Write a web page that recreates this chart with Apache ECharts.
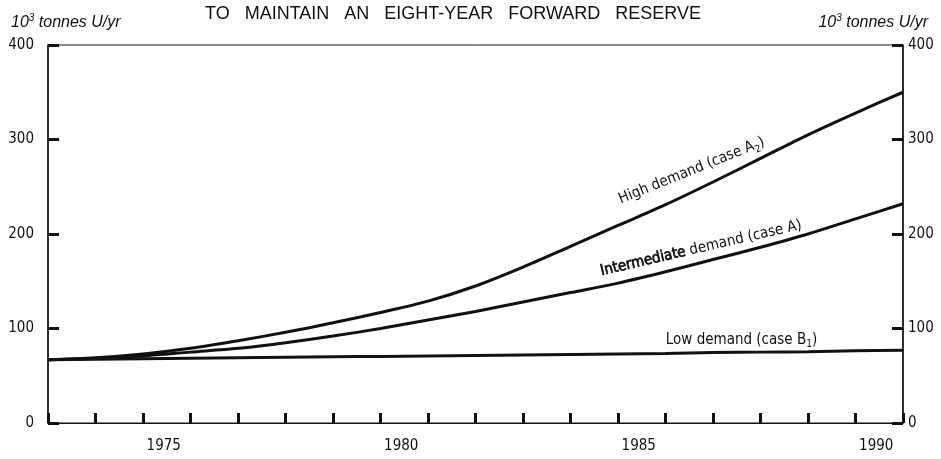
<!DOCTYPE html>
<html>
<head>
<meta charset="utf-8">
<script src="https://cdn.jsdelivr.net/npm/echarts@6/dist/echarts.min.js"></script>
<style>
  html, body { margin: 0; padding: 0; background: #fff; }
  #chart { width: 941px; height: 459px; }
</style>
</head>
<body>
<div id="chart"></div>
<script>
// band labels under the axis (one band per year)
const yearBands = ['1973', '1974', '1975', '1976', '1977', '1978', '1979', '1980', '1981',
  '1982', '1983', '1984', '1985', '1986', '1987', '1988', '1989', '1990'];
const shownYears = ['1975', '1980', '1985', '1990'];

// x positions of the curve points (start of each year)
const xYears = [1973, 1974, 1975, 1976, 1977, 1978, 1979, 1980, 1981, 1982,
  1983, 1984, 1985, 1986, 1987, 1988, 1989, 1990, 1991];

// 10^3 tonnes U/yr
const highDemand = [67, 69, 73, 79, 87, 96, 106, 117, 129, 145, 165, 187, 209, 231, 255, 280, 305, 328, 350];
const intermediateDemand = [67, 68.5, 71, 75, 79, 85, 92, 100, 109, 118, 128, 138, 148, 160, 173, 186, 200, 216, 232];
const lowDemand = [67, 67.5, 68, 68.5, 69, 69.5, 70, 70.5, 71, 71.5, 72, 72.5, 73, 73.5, 74.5, 75, 75.5, 76.5, 77];

const yTicks = [0, 100, 200, 300, 400];

const FONT = '"Liberation Sans Narrow", "DejaVu Sans Condensed", "Liberation Sans", sans-serif';
const INK = '#111';

const pairs = (vals) => vals.map((v, i) => [xYears[i], v]);

const chart = echarts.init(document.getElementById('chart'));

const lineSeries = (name, vals, label) => ({
  name,
  type: 'line',
  xAxisIndex: 0,
  data: pairs(vals),
  smooth: 0.3,
  symbol: 'none',
  lineStyle: { color: INK, width: 3 },
  markPoint: {
    symbolSize: 0,
    silent: true,
    data: [label]
  }
});

const unitsText = {
  text: '{i|10}{sup|3}{i| tonnes U/yr}',
  textStyle: {
    rich: {
      i: { fontFamily: 'Liberation Sans', fontStyle: 'italic', fontWeight: 'normal', fontSize: 16, color: INK, lineHeight: 20 },
      sup: { fontFamily: 'Liberation Sans', fontStyle: 'italic', fontWeight: 'normal', fontSize: 10, color: INK, verticalAlign: 'top', lineHeight: 20 }
    }
  }
};

chart.setOption({
  animation: false,
  backgroundColor: '#fff',
  title: [
    {
      text: 'TO   MAINTAIN   AN   EIGHT-YEAR   FORWARD   RESERVE',
      left: 448,
      textAlign: 'center',
      top: 0,
      textStyle: { fontFamily: 'Liberation Sans', fontWeight: 'normal', fontSize: 18, color: INK }
    },
    Object.assign({ left: 6, top: 8 }, unitsText),
    Object.assign({ right: 8, top: 8 }, unitsText)
  ],
  grid: {
    left: 48, right: 38, top: 45, bottom: 36,
    show: true, borderColor: INK, borderWidth: 1
  },
  xAxis: [
    {
      type: 'value',
      min: 1973, max: 1991, interval: 1,
      axisLine: { show: true, lineStyle: { color: INK, width: 1 } },
      axisTick: { show: true, inside: true, length: 10, lineStyle: { color: INK, width: 3 } },
      axisLabel: { show: false },
      splitLine: { show: false }
    },
    {
      type: 'category',
      data: yearBands,
      boundaryGap: true,
      position: 'bottom',
      axisLine: { show: false },
      axisTick: { show: false },
      axisLabel: {
        margin: 16,
        padding: [0, 6, 0, 0],
        fontFamily: FONT,
        fontSize: 15,
        color: INK,
        interval: (i, v) => shownYears.includes(v)
      },
      splitLine: { show: false }
    }
  ],
  yAxis: [
    {
      type: 'value', position: 'left',
      min: 0, max: 400, interval: 100,
      axisLine: { show: true, lineStyle: { color: INK, width: 1.5 } },
      axisTick: { show: true, inside: true, length: 11, lineStyle: { color: INK, width: 3 } },
      axisLabel: { margin: 14, fontFamily: FONT, fontSize: 15, color: INK,
        formatter: (v) => yTicks.includes(v) ? String(v) : '' },
      splitLine: { show: false }
    },
    {
      type: 'value', position: 'right',
      min: 0, max: 400, interval: 100,
      axisLine: { show: true, lineStyle: { color: INK, width: 1.5 } },
      axisTick: { show: true, inside: true, length: 11, lineStyle: { color: INK, width: 3 } },
      axisLabel: { margin: 5, fontFamily: FONT, fontSize: 15, color: INK,
        formatter: (v) => yTicks.includes(v) ? String(v) : '' },
      splitLine: { show: false }
    }
  ],
  series: [
    lineSeries('High demand (case A2)', highDemand, {
      coord: [1986.55, 267],
      label: {
        show: true, position: 'inside', rotate: 22,
        formatter: '{t|High demand (case A}{sub|2}{t|)}',
        rich: {
          t: { fontFamily: FONT, fontSize: 15, color: INK, lineHeight: 20 },
          sub: { fontFamily: FONT, fontSize: 10, color: INK, verticalAlign: 'bottom', lineHeight: 20 }
        }
      }
    }),
    lineSeries('Intermediate demand (case A)', intermediateDemand, {
      coord: [1986.75, 185],
      label: {
        show: true, position: 'inside', rotate: 13,
        formatter: '{b|Intermediate}{t| demand (case A)}',
        rich: {
          b: { fontFamily: FONT, fontSize: 15, color: INK, textBorderColor: INK, textBorderWidth: 0.7 },
          t: { fontFamily: FONT, fontSize: 15, color: INK }
        }
      }
    }),
    lineSeries('Low demand (case B1)', lowDemand, {
      coord: [1987.6, 88],
      label: {
        show: true, position: 'inside',
        formatter: '{t|Low demand (case B}{sub|1}{t|)}',
        rich: {
          t: { fontFamily: FONT, fontSize: 15, color: INK, lineHeight: 20 },
          sub: { fontFamily: FONT, fontSize: 10, color: INK, verticalAlign: 'bottom', lineHeight: 20 }
        }
      }
    })
  ]
});
</script>
</body>
</html>
